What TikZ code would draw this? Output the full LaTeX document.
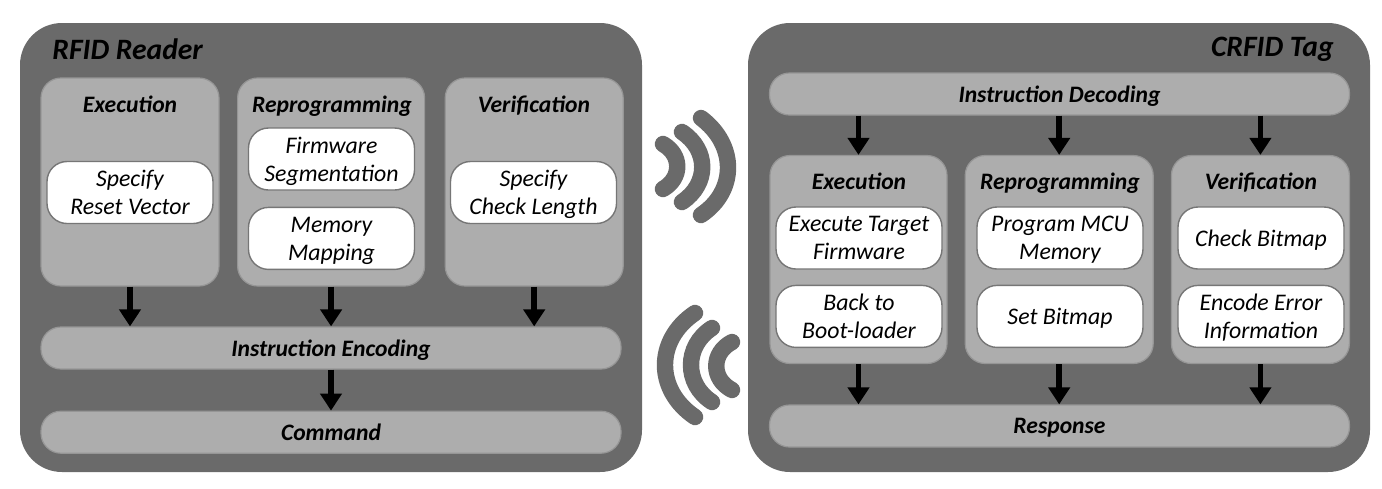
\documentclass[tikz,border=0pt]{standalone}
\usepackage{xcolor}
\usepackage{fontspec}
\setmainfont{Carlito}
\usetikzlibrary{arrows.meta, positioning}
\definecolor{rfdark}{RGB}{106,106,106}
\definecolor{rfmid}{RGB}{173,173,173}
\definecolor{rfedge}{RGB}{150,150,150}
\definecolor{rfleaf}{RGB}{118,118,118}

\begin{document}
\begin{tikzpicture}[x=0.5pt, y=-0.5pt,
  panel/.style={rectangle, fill=rfdark, rounded corners=21pt, minimum width=311pt, minimum height=224.5pt, inner sep=0pt},
  column/.style={rectangle, draw=rfedge, line width=0.6pt, fill=rfmid, rounded corners=10pt, minimum height=104pt, inner sep=0pt},
  bar/.style={rectangle, draw=rfedge, line width=0.6pt, fill=rfmid, rounded corners=10pt, minimum width=290pt, minimum height=21pt, inner sep=0pt, text depth=0pt, font=\fontsize{11.8}{14}\selectfont\bfseries\itshape},
  leaf/.style={rectangle, draw=rfleaf, line width=0.7pt, fill=white, rounded corners=10pt, minimum width=83pt, minimum height=31pt, inner sep=0pt, align=center, text depth=0pt, font=\fontsize{11.9}{14}\selectfont\itshape},
  heading/.style={inner sep=0pt, text depth=0pt, font=\fontsize{11.8}{14}\selectfont\bfseries\itshape},
  title/.style={inner sep=0pt, font=\fontsize{14.8}{17}\selectfont\bfseries\itshape},
  arr/.style={-{Triangle[length=8.5pt, width=10.5pt]}, line width=2.8pt, black},
  wave/.style={draw=rfdark, line width=8.2pt, line cap=round}
]
\useasboundingbox (0,0) rectangle (1382,488);
% reader side
\node[panel] (reader) at (331,247.5) {};
\node[title, anchor=west] (readerTitle) at (52,49) {RFID Reader};
\node[column, minimum width=89pt] (execL) at (130,182) {};
\node[column, minimum width=93.5pt, right=8.7pt of execL] (reproL) {};
\node[column, minimum width=89pt, right=9.7pt of reproL] (verifL) {};
\node[heading] at (130,104) (execLT) {Execution};
\node[heading] at (332,104) (reproLT) {Reprogramming};
\node[heading] at (534,104) (verifLT) {Verification};
\node[leaf] (resetL) at (130,192.5) {Specify\\Reset Vector};
\node[leaf] (segL) at (331.5,159) {Firmware\\Segmentation};
\node[leaf, below=8pt of segL] (mapL) {Memory\\Mapping};
\node[leaf] (checkL) at (533.5,192.5) {Specify\\Check Length};
\node[bar] (encodeL) at (331,348) {Instruction Encoding};
\node[bar, below=20.5pt of encodeL] (commandL) {Command};
\draw[arr] (execL.south) -- (execL.south |- encodeL.north);
\draw[arr] (reproL.south) -- (reproL.south |- encodeL.north);
\draw[arr] (verifL.south) -- (verifL.south |- encodeL.north);
\draw[arr] (encodeL.south) -- (commandL.north);
% tag side
\node[panel] (tag) at (1059,247.5) {};
\node[title, anchor=east] (tagTitle) at (1334,49) {CRFID Tag};
\node[bar] (decodeR) at (1059.5,94) {Instruction Decoding};
\node[column, minimum width=88.5pt] (execR) at (858.5,259.5) {};
\node[column, minimum width=94pt, right=8.5pt of execR] (reproR) {};
\node[column, minimum width=89pt, right=8.5pt of reproR] (verifR) {};
\node[heading] at (859,181) (execRT) {Execution};
\node[heading] at (1060,181) (reproRT) {Reprogramming};
\node[heading] at (1261,181) (verifRT) {Verification};
\node[leaf] (runR) at (859,238) {Execute Target\\Firmware};
\node[leaf, below=7.5pt of runR] (backR) {Back to\\Boot-loader};
\node[leaf] (progR) at (1060,238) {Program MCU\\Memory};
\node[leaf, below=7.5pt of progR] (setR) {Set Bitmap};
\node[leaf] (bitR) at (1261,238) {Check Bitmap};
\node[leaf, below=7.5pt of bitR] (errR) {Encode Error\\Information};
\node[bar] (responseR) at (1059.5,426) {Response};
\draw[arr] (execR.north |- decodeR.south) -- (execR.north);
\draw[arr] (reproR.north |- decodeR.south) -- (reproR.north);
\draw[arr] (verifR.north |- decodeR.south) -- (verifR.north);
\draw[arr] (execR.south) -- (execR.south |- responseR.north);
\draw[arr] (reproR.south) -- (reproR.south |- responseR.north);
\draw[arr] (verifR.south) -- (verifR.south |- responseR.north);
% waves
\draw[wave] (663,144) .. controls (682,155) and (682,178) .. (663,189);
\draw[wave] (682,132) .. controls (709,150) and (709,184) .. (682,202);
\draw[wave] (701,118) .. controls (737,145) and (737,191) .. (701,215);
\draw[wave] (732,342) .. controls (711,353) and (711,379) .. (732,390);
\draw[wave] (712,328) .. controls (684,346) and (684,384) .. (712,402);
\draw[wave] (695,313) .. controls (655,340) and (655,390) .. (695,417);
\end{tikzpicture}
\end{document}
